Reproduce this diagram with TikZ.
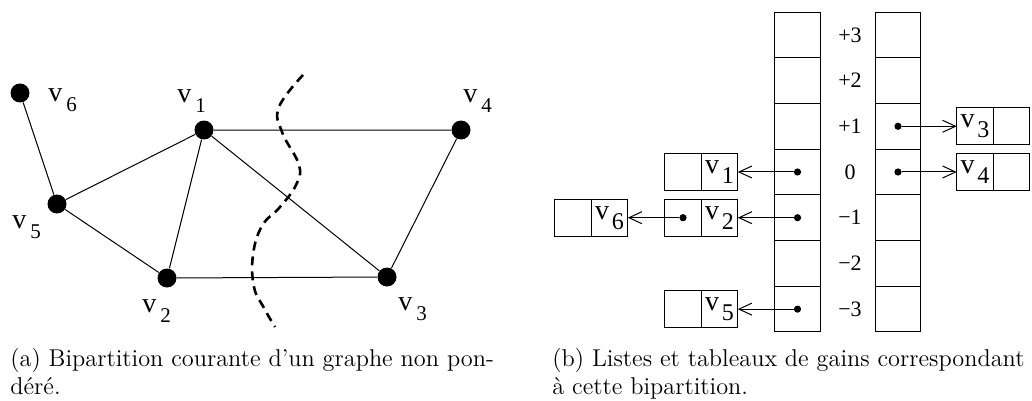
\documentclass[tikz,border=0pt]{standalone}
\usepackage{fontspec}
\usepackage{tikz}
\usetikzlibrary{arrows.meta,positioning}
\newfontfamily\figfont{Liberation Serif}

% vertex names: v with a lowered index
\newcommand{\vgr}[1]{v\kern2pt\raisebox{-5pt}{\fontsize{10.5}{10.5}\selectfont #1}}
\newcommand{\vbx}[1]{v\kern1.4pt\raisebox{-5pt}{\fontsize{12}{12}\selectfont #1}}

\begin{document}
\begin{tikzpicture}[x=0.5pt,y=-0.5pt,
  every node/.style={font=\figfont\fontsize{14}{16}\selectfont},
  vertex/.style={circle,fill=black,inner sep=0pt,minimum size=9.5pt},
  vlabel/.style={anchor=base west,inner sep=0pt},
  gedge/.style={line width=0.5pt},
  cutline/.style={line width=1.3pt,dash pattern=on 4.5pt off 3pt},
  cell/.style={draw,line width=0.5pt,inner sep=0pt,outer sep=0pt,minimum width=22.75pt,minimum height=22.85pt},
  lcell/.style={draw,line width=0.5pt,inner sep=0pt,outer sep=0pt,minimum width=18.25pt,minimum height=18.5pt},
  gain/.style={font=\figfont\fontsize{11}{12}\selectfont},
  ptr/.style={circle,fill=black,inner sep=0pt,minimum size=3.6pt},
  arrow/.style={-{Straight Barb[length=6.5pt,width=6pt]},line width=0.5pt},
  capt/.style={font=\fontsize{12.15}{13.7}\selectfont,anchor=north west,align=left,inner sep=0pt}
]
\useasboundingbox (0,0) rectangle (1032,401);

% (a) the graph
\node[vertex] (v1) at (204,130) {};
\node[vertex] (v2) at (167,278) {};
\node[vertex] (v3) at (387,277) {};
\node[vertex] (v4) at (461,130) {};
\node[vertex] (v5) at (57,204) {};
\node[vertex] (v6) at (20,93) {};

\node[vlabel] (l1) at (177,103) {\vgr{1}};
\node[vlabel] (l2) at (142,312) {\vgr{2}};
\node[vlabel] (l3) at (398,310) {\vgr{3}};
\node[vlabel] (l4) at (463,103) {\vgr{4}};
\node[vlabel] (l5) at (12,228) {\vgr{5}};
\node[vlabel] (l6) at (48,102) {\vgr{6}};

\draw[gedge] (v6) -- (v5) (v5) -- (v1) (v5) -- (v2) (v1) -- (v2)
  (v1) -- (v4) (v1) -- (v3) (v2) -- (v3) (v3) -- (v4);

\draw[cutline] plot[smooth,tension=0.7] coordinates {(303,75) (279,107) (282,132) (299,165)
  (296,185) (280,207) (262,226) (253,255) (254,287) (264,308) (275,327)};

% (b) gain tables
\foreach \g [count=\i from 0] in {+3,+2,+1,0,−1,−2,−3} {
  \node[cell] (L\i) at (797.5,{34.86+45.71*\i}) {};
  \node[cell] (R\i) at (898,{34.86+45.71*\i}) {};
  \node[gain] (g\i) at (850,{34.86+45.71*\i}) {\g};
}

\node[ptr] (pL3) at (L3) {};
\node[ptr] (pL4) at (L4) {};
\node[ptr] (pL6) at (L6) {};
\node[ptr] (pR2) at (R2) {};
\node[ptr] (pR3) at (R3) {};

% lists
\node[lcell] (b1) [left=18.5pt of L3] {\vbx{1}};
\node[lcell] (b1e) [left=0pt of b1] {};
\node[lcell] (b2) [left=18.5pt of L4] {\vbx{2}};
\node[lcell] (b2e) [left=0pt of b2] {};
\node[ptr] (pb2) at (b2e) {};
\node[lcell] (b6) [left=18.5pt of b2e] {\vbx{6}};
\node[lcell] (b6e) [left=0pt of b6] {};
\node[lcell] (b5) [left=18.5pt of L6] {\vbx{5}};
\node[lcell] (b5e) [left=0pt of b5] {};
\node[lcell] (b3) [right=18pt of R2] {\vbx{3}};
\node[lcell] (b3e) [right=0pt of b3] {};
\node[lcell] (b4) [right=18pt of R3] {\vbx{4}};
\node[lcell] (b4e) [right=0pt of b4] {};

\draw[arrow] (pL3) -- (b1);
\draw[arrow] (pL4) -- (b2);
\draw[arrow] (pL6) -- (b5);
\draw[arrow] (pb2) -- (b6);
\draw[arrow] (pR2) -- (b3);
\draw[arrow] (pR3) -- (b4);

% captions
\node[capt] (capa) at (10,348) {(a) Bipartition courante d'un graphe non pon-\\déré.};
\node[capt] (capb) at (552,348) {(b) Listes et tableaux de gains correspondant\\à cette bipartition.};
\end{tikzpicture}
\end{document}
